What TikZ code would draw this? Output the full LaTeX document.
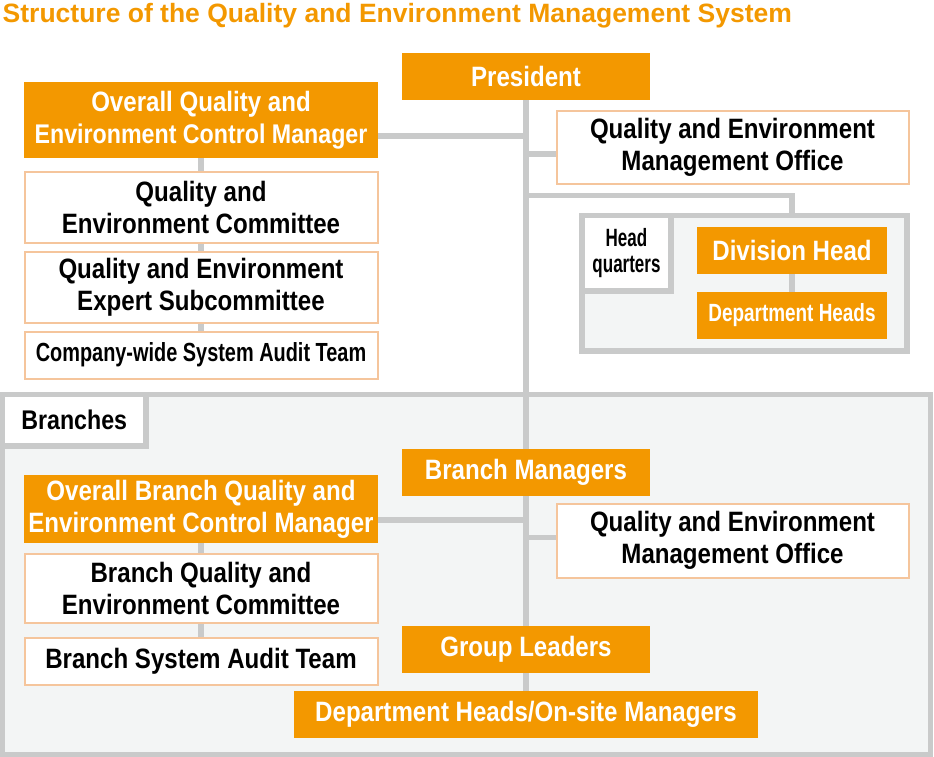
\documentclass[tikz,border=0pt]{standalone}
\usepackage{fontspec}
\setmainfont{Liberation Sans}
\newfontfamily\cf[FakeStretch=0.86]{Liberation Sans}
\newfontfamily\cfn[FakeStretch=0.76]{Liberation Sans}
\newfontfamily\cfm[FakeStretch=0.68]{Liberation Sans}
\definecolor{qorange}{HTML}{F39800}
\definecolor{qborder}{HTML}{F5C59C}
\definecolor{qgray}{HTML}{C9CACA}
\definecolor{qfill}{HTML}{F3F5F5}
\pgfdeclarelayer{regions}
\pgfdeclarelayer{lines}
\pgfsetlayers{regions,lines,main}
\tikzset{
  obox/.style={rectangle, fill=qorange, text=white, inner sep=0pt, outer sep=0pt, align=center,
    font=\cf\bfseries\fontsize{28}{32}\selectfont},
  wbox/.style={rectangle, fill=white, draw=qborder, line width=2pt, text=black, inner sep=0pt, outer sep=0pt, align=center,
    font=\cf\bfseries\fontsize{28}{32}\selectfont},
  region/.style={rectangle, fill=qfill, draw=qgray, line width=5.5pt, inner sep=0pt, outer sep=0pt},
  labbox/.style={rectangle, fill=white, draw=qgray, line width=5.5pt, inner sep=0pt, outer sep=0pt, align=center, text=black},
  conn/.style={draw=qgray, line width=5.5pt, line cap=butt},
}
\begin{document}
\begin{tikzpicture}[x=1pt,y=-1pt]
\useasboundingbox (0,0) rectangle (934,757);

% title
\node[anchor=base west, inner sep=0pt, text=qorange, font=\bfseries\fontsize{26.5}{30}\selectfont] (title) at (2.5,22.5)
  {Structure of the Quality and Environment Management System};

% regions
\begin{pgfonlayer}{regions}
\node[region, minimum width=325pt, minimum height=135.5pt] (hq) at (744.5,283.25) {};
\node[labbox, minimum width=89pt, minimum height=75.5pt, font=\cfm\bfseries\fontsize{25}{26}\selectfont] (hqlab) at (626.5,253.25) {Head\\quarters};
\node[region, minimum width=928pt, minimum height=360pt] (br) at (466.5,574.5) {};
\node[labbox, minimum width=143.5pt, minimum height=51.5pt, font=\cf\bfseries\fontsize{27}{30}\selectfont] (brlab) at (74.25,420.25) {Branches};
\end{pgfonlayer}

% head office nodes
\node[obox, minimum width=248pt, minimum height=47pt] (pres) at (526,76.5) {President};
\node[obox, minimum width=354pt, minimum height=76pt] (oqem) at (201,120) {Overall Quality and\\\fontsize{27}{32}\selectfont Environment Control Manager};
\node[wbox, minimum width=353pt, minimum height=71pt] (qec) at (201,207) {Quality and\\Environment Committee};
\node[wbox, minimum width=353pt, minimum height=71pt] (qes) at (201,287) {Quality and Environment\\Expert Subcommittee};
\node[wbox, minimum width=353pt, minimum height=47pt, font=\cfn\bfseries\fontsize{26.2}{30}\selectfont] (cwa) at (201,355) {Company-wide System Audit Team};
\node[wbox, minimum width=352pt, minimum height=72pt] (off1) at (732.5,147.5) {Quality and Environment\\Management Office};
\node[obox, minimum width=190pt, minimum height=47pt] (divh) at (792,250.5) {Division Head};
\node[obox, minimum width=190pt, minimum height=47pt, font=\cfn\bfseries\fontsize{24.9}{28}\selectfont] (deph) at (792,315.5) {Department Heads};

% branch nodes
\node[obox, minimum width=248pt, minimum height=47pt] (bm) at (526,472.5) {Branch Managers};
\node[obox, minimum width=354pt, minimum height=68pt] (obq) at (201,509) {Overall Branch Quality and\\Environment Control Manager};
\node[wbox, minimum width=353pt, minimum height=69pt] (bqc) at (201,588) {Branch Quality and\\Environment Committee};
\node[wbox, minimum width=353pt, minimum height=47pt] (bsa) at (201,661) {Branch System Audit Team};
\node[wbox, minimum width=352pt, minimum height=74pt] (off2) at (732.5,540.5) {Quality and Environment\\Management Office};
\node[obox, minimum width=248pt, minimum height=47pt] (gl) at (526,649.5) {Group Leaders};
\node[obox, minimum width=464pt, minimum height=47pt] (dho) at (526,714.5) {Department Heads/On-site Managers};

% junctions on the main vertical
\coordinate (j1) at (526,136);
\coordinate (j2) at (526,154);
\coordinate (j3) at (526,195.5);
\coordinate (j4) at (526,520);
\coordinate (j5) at (526,537.5);

\begin{pgfonlayer}{lines}
\draw[conn] (pres.south) -- (dho.north);
\draw[conn] (oqem.east |- j1) -- (j1);
\draw[conn] (j2) -- (off1.west |- j2);
\draw[conn] (j3) -- (divh.north |- j3) -- (divh.north |- hq.north);
\draw[conn] (divh) -- (deph);
\draw[conn] (oqem) -- (qec);
\draw[conn] (qec) -- (qes);
\draw[conn] (qes) -- (cwa);
\draw[conn] (obq.east |- j4) -- (j4);
\draw[conn] (j5) -- (off2.west |- j5);
\draw[conn] (obq) -- (bqc);
\draw[conn] (bqc) -- (bsa);
\end{pgfonlayer}
\end{tikzpicture}
\end{document}
